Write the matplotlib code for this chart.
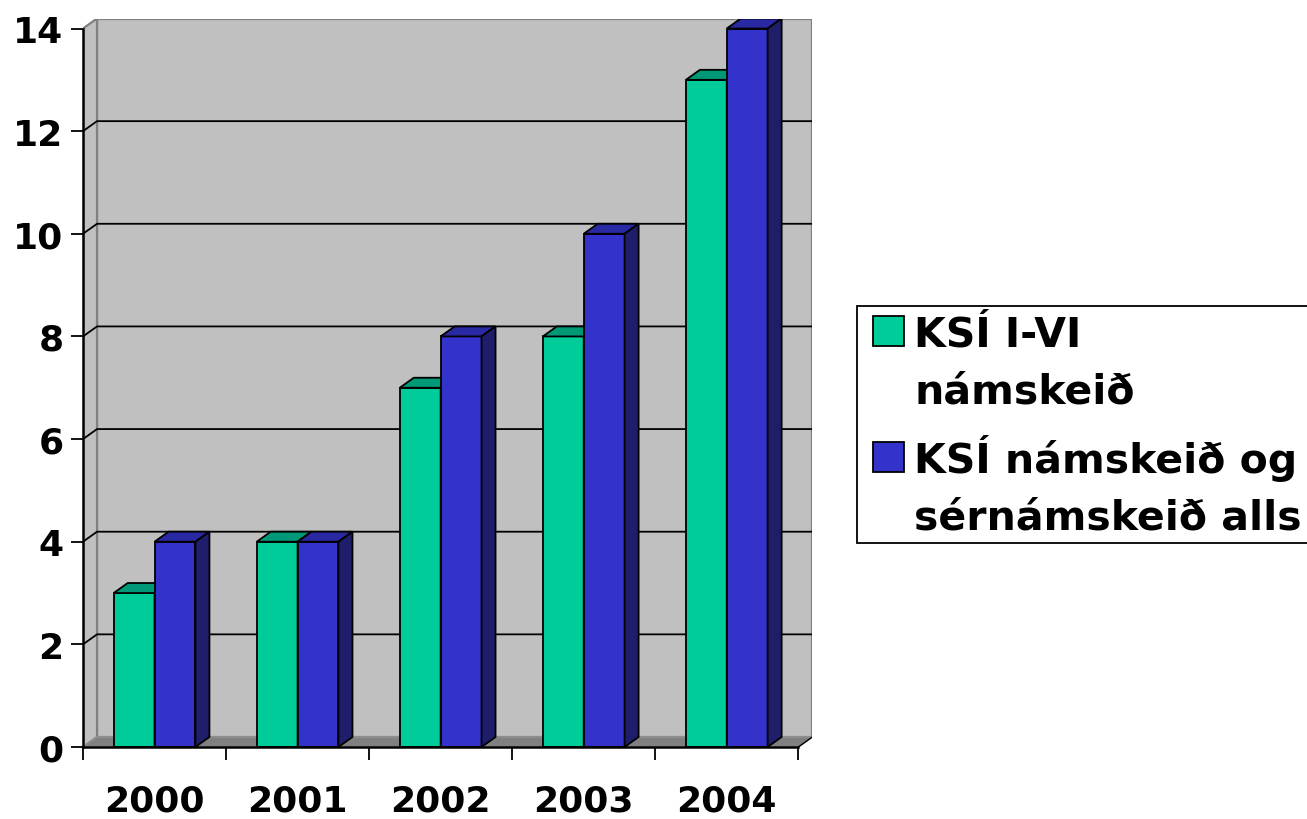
import matplotlib
matplotlib.use("Agg")
import matplotlib.pyplot as plt
from matplotlib.patches import Polygon, Rectangle

years = ["2000", "2001", "2002", "2003", "2004"]
ksi_1_6 = [3, 4, 7, 8, 13]
ksi_total = [4, 4, 8, 10, 14]
legend_lines = [["KSÍ I-VI", "námskeið"], ["KSÍ námskeið og", "sérnámskeið alls"]]
yticks = [0, 2, 4, 6, 8, 10, 12, 14]

plt.rcParams["font.family"] = ["DejaVu Sans"]
plt.rcParams["font.weight"] = "bold"

W, H = 1307, 820
fig = plt.figure(figsize=(W / 100, H / 100), dpi=100)
ax = fig.add_axes([83 / W, 72 / H, 729.3 / W, (748 - 19.5) / H])

DX, DY = 0.098, 0.195      # 3-D depth offset in data units
ymax = yticks[-1]
n = len(years)
ax.set_xlim(0, n + DX)
ax.set_ylim(0, ymax + DY)
for s in ax.spines.values():
    s.set_visible(False)
ax.patch.set_visible(False)

WALL = "#C0C0C0"; EDGE = "#808080"
# back wall, side wall, floor
ax.add_patch(Rectangle((DX, DY), n, ymax, fc=WALL, ec=EDGE, lw=1.6, zorder=1))
ax.add_patch(Polygon([(0, 0), (DX, DY), (DX, ymax + DY), (0, ymax)], closed=True,
                     fc=WALL, ec=EDGE, lw=1.6, zorder=1))
ax.add_patch(Polygon([(0, 0), (n, 0), (n + DX, DY), (DX, DY)], closed=True,
                     fc="#808080", ec="#909090", lw=1.2, zorder=1.5))
ax.plot([n, n + DX], [0, DY], color="k", lw=1.0, zorder=1.6)
for y in yticks[1:-1]:
    ax.plot([0, DX, n + DX], [y, y + DY, y + DY], color="k", lw=1.3, zorder=1.2)

# front axis lines
ax.plot([0, 0], [0, ymax], color="k", lw=1.8, zorder=5, clip_on=False)
ax.plot([0, n], [0, 0], color="k", lw=1.8, zorder=5, clip_on=False)


def bar3d(x0, w, v, face, top, side, z):
    ax.add_patch(Rectangle((x0, 0), w, v, fc=face, ec="k", lw=1.3, zorder=z))
    ax.add_patch(Polygon([(x0, v), (x0 + w, v), (x0 + w + DX, v + DY), (x0 + DX, v + DY)],
                         closed=True, fc=top, ec="k", lw=1.3, zorder=z))
    ax.add_patch(Polygon([(x0 + w, 0), (x0 + w + DX, DY), (x0 + w + DX, v + DY), (x0 + w, v)],
                         closed=True, fc=side, ec="k", lw=1.3, zorder=z))


bw = 1 / 3.5
for i in range(n):
    x0 = i + 0.75 * bw
    bar3d(x0, bw, ksi_1_6[i], "#00CC99", "#009977", "#007755", 3 + i * 0.1)
    bar3d(x0 + bw, bw, ksi_total[i], "#3333CC", "#2929A3", "#1E1E6B", 3.05 + i * 0.1)

ax.set_yticks(yticks)
ax.set_yticklabels([str(t) for t in yticks])
ax.tick_params(axis="y", direction="out", length=9, width=1.3, pad=5, labelsize=26)
ax.set_xticks(range(n + 1))
ax.set_xticklabels([""] * (n + 1))
ax.tick_params(axis="x", which="major", direction="out", length=9, width=1.3)
ax.set_xticks([i + 0.5 for i in range(n)], minor=True)
ax.set_xticklabels(years, minor=True)
ax.tick_params(axis="x", which="minor", length=0, pad=26, labelsize=26)


def f(x, y):
    return (x / W, 1 - y / H)


# legend (drawn by hand, box runs off the right edge)
fig.add_artist(Rectangle(f(857, 544), 500 / W, 237 / H, transform=fig.transFigure,
                         fc="white", ec="k", lw=1.3))
sq_colors = ["#00CC99", "#3333CC"]
sq_tops = [317, 443]
baselines = [[347, 404], [473, 530]]
for c, ty, lines, bl in zip(sq_colors, sq_tops, legend_lines, baselines):
    fig.add_artist(Rectangle(f(873, ty + 30), 31 / W, 30 / H, transform=fig.transFigure,
                             fc=c, ec="k", lw=1.3))
    for txt, b in zip(lines, bl):
        fig.text(*f(914, b), txt, fontsize=29.5, fontweight="bold", va="baseline", ha="left")

fig.savefig("out.png", dpi=100)
